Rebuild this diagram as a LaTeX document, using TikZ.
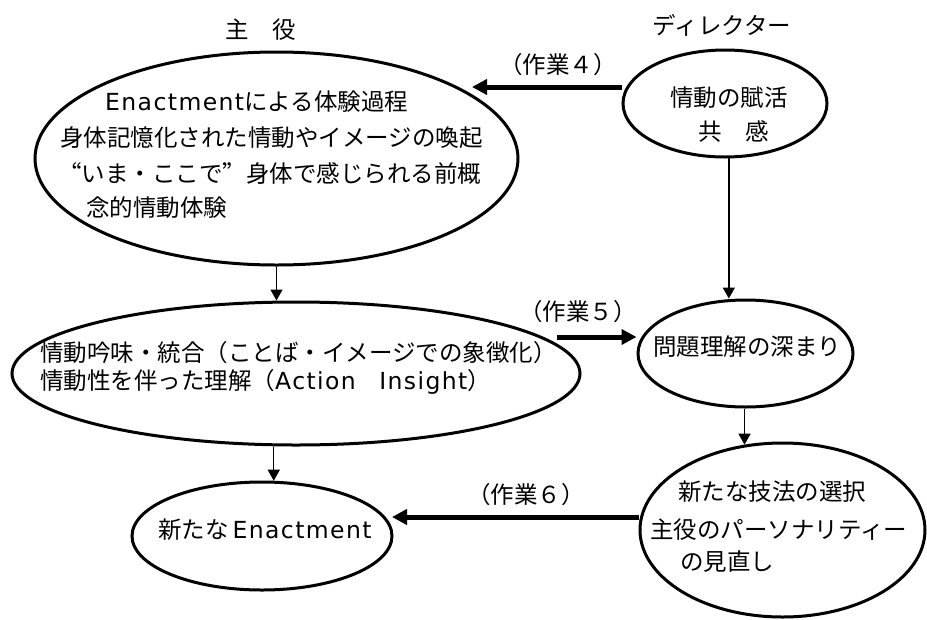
\documentclass[tikz,border=0pt]{standalone}
\usepackage{fontspec}
\newfontfamily\jp{Noto Sans CJK JP}
\newfontfamily\jpfw[RawFeature=+fwid]{Noto Sans CJK JP}
\newfontfamily\lat[LetterSpace=6]{DejaVu Sans}
\usetikzlibrary{arrows.meta,shapes.geometric}
\begin{document}
\begin{tikzpicture}[x=1pt,y=1pt,
  ell/.style={draw=black, line width=3pt, ellipse, inner sep=0pt},
  txt/.style={font=\jp\fontsize{23.5pt}{28pt}\selectfont, inner sep=0pt, anchor=west},
  lbl/.style={font=\jp\fontsize{23.5pt}{28pt}\selectfont, inner sep=0pt, anchor=center},
  thinarrow/.style={line width=1.5pt, -{Triangle[length=11pt,width=12pt]}},
  bigarrow/.style={line width=5pt, -{Triangle[length=15pt,width=15pt]}}]
\useasboundingbox (0,0) rectangle (927,-619);
\fill[white] (0,0) rectangle (927,-619);

% headings
\node[lbl] (h1) at (261,-30) {主　役};
\node[lbl] (h2) at (722,-25) {ディレクター};

% ellipses
\node[ell, minimum width=483pt, minimum height=213pt] (e1) at (276.5,-158.5) {};
\node[ell, minimum width=204pt, minimum height=107pt] (e2) at (725,-103.5) {};
\node[ell, minimum width=568pt, minimum height=143pt] (e3) at (296,-373.5) {};
\node[ell, minimum width=215pt, minimum height=107pt] (e4) at (745.5,-353.5) {};
\node[ell, minimum width=260pt, minimum height=108pt] (e5) at (262,-536) {};
\node[ell, minimum width=285pt, minimum height=174pt] (e6) at (782.5,-530) {};

% texts
\node[txt] (t1a) at (105,-102) {{\lat Enactment}による体験過程};
\node[txt] (t1b) at (60,-138) {身体記憶化された情動やイメージの喚起};
\node[txt] (t1c) at (58,-173) {{\jpfw “}いま・ここで{\jpfw ”}身体で感じられる前概};
\node[txt] (t1d) at (86,-208) {念的情動体験};
\node[txt] (t2a) at (670,-98) {情動の賦活};
\node[txt] (t2b) at (698,-132) {共　感};
\node[txt] (t3a) at (40,-353) {情動吟味・統合（ことば・イメージでの象徴化）};
\node[txt] (t3b) at (40,-382) {情動性を伴った理解（{\lat Action}　{\lat Insight}）};
\node[txt] (t4) at (653,-347) {問題理解の深まり};
\node[txt] (t5) at (158,-530) {新たな{\lat\,Enactment}};
\node[txt] (t6a) at (678,-492) {新たな技法の選択};
\node[txt] (t6b) at (650,-530) {主役のパーソナリティー};
\node[txt] (t6c) at (680,-562) {の見直し};

% labels
\node[lbl] (l4) at (558,-65) {（作業４）};
\node[lbl] (l5) at (578,-312) {（作業５）};
\node[lbl] (l6) at (526,-495) {（作業６）};

% thin connectors
\draw[thinarrow] (e1.south) -- (e1.south |- e3.north);
\draw[thinarrow] (e2.-86) -- (e2.-86 |- e4.north);
\draw[thinarrow] (e4.south -| e6.114) -- (e6.114);
\draw[thinarrow] (e3.south -| e5.78) -- (e5.78);

% thick connectors
\coordinate (c4) at (472,-87);
\coordinate (c5) at (557,-337);
\coordinate (c6) at (392,-517);
\draw[bigarrow] (c4 -| e2.west) -- (c4);
\draw[bigarrow] (c5) -- (c5 -| e4.west);
\draw[bigarrow] (c6 -| e6.west) -- (c6);
\end{tikzpicture}
\end{document}
